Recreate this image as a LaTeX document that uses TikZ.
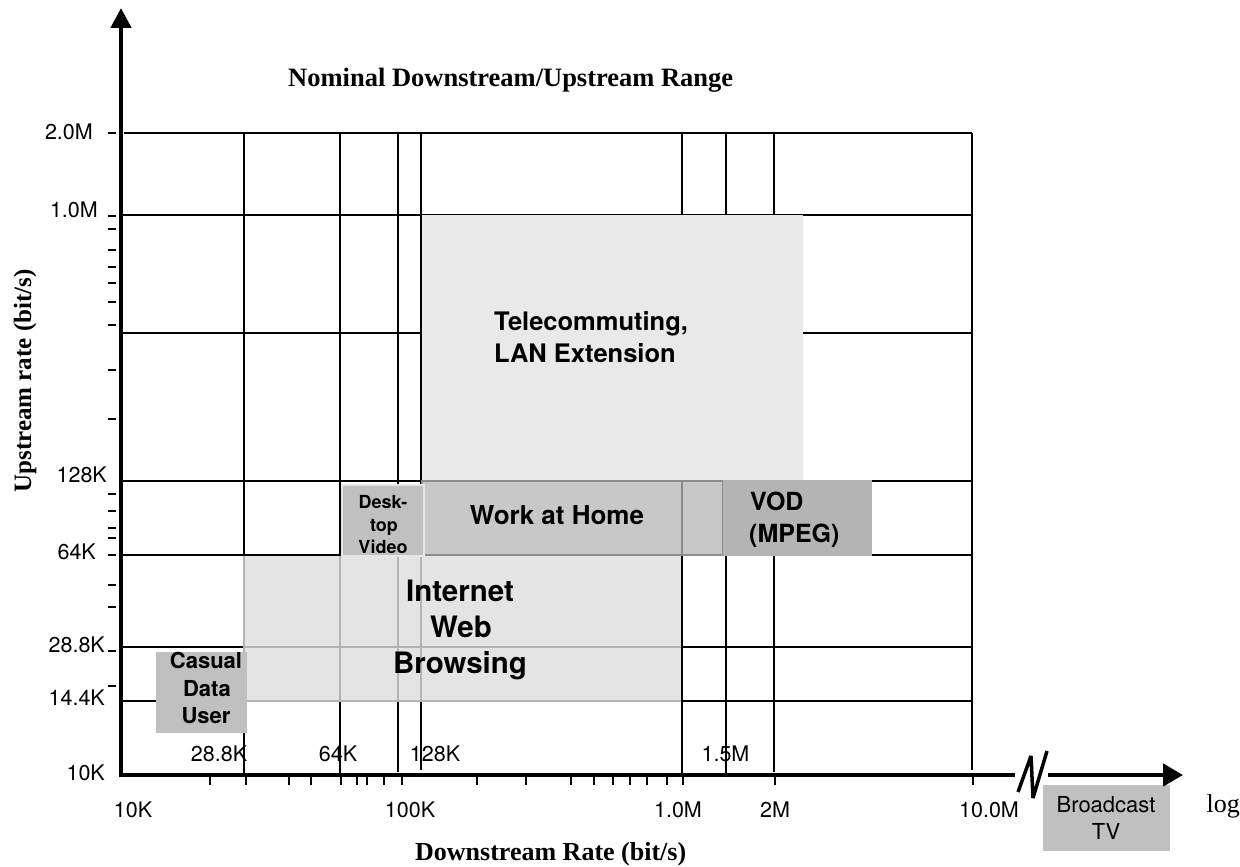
\documentclass[tikz,border=0pt]{standalone}
\usepackage{fontspec}
\setmainfont{Liberation Serif}
\newfontfamily\hv{TeX Gyre Heros}
\usetikzlibrary{arrows.meta}

\definecolor{telefill}{RGB}{233,233,233}
\definecolor{wahfill}{RGB}{200,200,200}
\definecolor{wahline}{RGB}{140,140,140}
\definecolor{webfill}{RGB}{228,228,228}
\definecolor{webline}{RGB}{180,180,180}
\definecolor{deskfill}{RGB}{192,192,192}
\definecolor{deskline}{RGB}{230,230,230}
\definecolor{vodfill}{RGB}{180,180,180}
\definecolor{userfill}{RGB}{192,192,192}

\begin{document}
\begin{tikzpicture}[x=1pt,y=-1pt,
  gridline/.style={line width=2pt,black},
  softline/.style={line width=2pt},
  axisline/.style={line width=4.5pt,black},
  tickmark/.style={line width=2pt,black},
  num/.style={font=\hv\fontsize{21.5}{25}\selectfont,inner sep=0pt},
  axtitle/.style={font=\bfseries\fontsize{26.5}{30}\selectfont,inner sep=0pt},
  boxtext/.style={font=\hv\bfseries\fontsize{#1}{#1}\selectfont,inner sep=0pt},
  boxtext/.default=25
]
\useasboundingbox (0,0) rectangle (1240,867);

% ---- black grid ----
\draw[gridline] (124,133) -- (972,133);
\foreach \yy in {215,333,481,555,647,701}
  \draw[gridline] (121,\yy) -- (971,\yy);
\foreach \xx/\yend in {244/775,340/775,398/772,421/770,682/775,726/775,774/772,972/770}
  \draw[gridline] (\xx,133) -- (\xx,\yend);

% ---- application regions ----
% Telecommuting, LAN Extension
\fill[telefill] (422,215) rectangle (803,481);

% Internet Web Browsing (grid shows through in grey)
\fill[webfill] (244,556) rectangle (682,701);
\draw[softline,webline] (244,556) -- (244,701) -- (682,701);
\foreach \xx in {340,398,421}
  \draw[softline,webline] (\xx,556) -- (\xx,701);
\draw[softline,webline] (244,647) -- (682,647);
\draw[gridline] (682,555) -- (682,775);
\draw[gridline] (121,555) -- (342,555);

% Work at Home
\filldraw[fill=wahfill,draw=wahline,line width=2pt] (422,481) rectangle (723,555);
\draw[softline,wahline] (682,481) -- (682,555);

% Desk-top Video
\filldraw[fill=deskfill,draw=deskline,line width=2pt] (342,485) rectangle (424,556);

% VOD (MPEG)
\fill[vodfill] (723,480) rectangle (872,556);

% Casual Data User
\fill[userfill] (156,652) rectangle (247,733);

% Broadcast TV
\fill[userfill] (1043,785) rectangle (1170,851);

% ---- axes ----
\draw[axisline] (118.75,775) -- (1015,775);
\draw[axisline,-{Triangle[length=20pt,width=22pt]}] (1048,775) -- (1183,775);
\draw[axisline,-{Triangle[length=20pt,width=20pt]}] (121,777.25) -- (121,8);
% axis break
\draw[line width=3.5pt,line join=bevel] (1018,792) -- (1031,756) -- (1033,798) -- (1047,751);

% ---- tick marks ----
\foreach \yy in {133,216,229,250,267,283,302,325,370,419,494,511,528,538,555,585,607,651,686}
  \draw[tickmark] (108,\yy) -- (116,\yy);
\foreach \xx in {210,246,289,311,341,357,367,384,402,477,526,571,594,613,630,647,667,683,775,973}
  \draw[tickmark] (\xx,775) -- (\xx,785);

% ---- upstream scale ----
\node[num,anchor=base east] (u2m)   at (93,139)  {2.0M};
\node[num,anchor=base east] (u1m)   at (98,217)  {1.0M};
\node[num,anchor=base east] (u128)  at (107,482) {128K};
\node[num,anchor=base east] (u64)   at (96,559)  {64K};
\node[num,anchor=base east] (u288)  at (105,652) {28.8K};
\node[num,anchor=base east] (u144)  at (105,705) {14.4K};
\node[num,anchor=base east] (u10)   at (105,780) {10K};

% ---- downstream scale ----
\node[num,anchor=base] (d10)   at (133,817) {10K};
\node[num,anchor=base] (d100)  at (410,817) {100K};
\node[num,anchor=base] (d1m)   at (678,817) {1.0M};
\node[num,anchor=base] (d2m)   at (775,817) {2M};
\node[num,anchor=base] (d10m)  at (989,817) {10.0M};
\node[num,anchor=base] (m288)  at (219,761) {28.8K};
\node[num,anchor=base] (m64)   at (338,761) {64K};
\node[num,anchor=base] (m128)  at (435,761) {128K};
\node[num,anchor=base] (m15)   at (725.5,761) {1.5M};

% ---- titles ----
\node[axtitle,anchor=base west] (title) at (288,87) {Nominal Downstream/Upstream Range};
\node[axtitle,anchor=base west,font=\bfseries\fontsize{26}{30}\selectfont] (xlab) at (415,860) {Downstream Rate (bit/s)};
\node[axtitle,anchor=base,rotate=90,font=\bfseries\fontsize{25}{30}\selectfont] (ylab) at (31,381) {Upstream rate (bit/s)};
\node[font=\fontsize{26}{30}\selectfont,inner sep=0pt,anchor=base east] (logword) at (1240,812) {log};

% ---- region labels ----
\node[boxtext=25.5,anchor=base west] (tc1) at (494,330) {Telecommuting,};
\node[boxtext=25.5,anchor=base west] (tc2) at (494,362) {LAN Extension};

\node[boxtext=26,anchor=base] (wah) at (557,524) {Work at Home};

\node[boxtext=18,anchor=base] (dv1) at (383,508) {Desk-};
\node[boxtext=18,anchor=base] (dv2) at (384,531) {top};
\node[boxtext=18,anchor=base] (dv3) at (383,553) {Video};

\node[boxtext=29.5,anchor=base] (iw1) at (460,601) {Internet};
\node[boxtext=29.5,anchor=base] (iw2) at (461,637) {Web};
\node[boxtext=29.5,anchor=base] (iw3) at (460,673) {Browsing};

\node[boxtext=25,anchor=base west] (vod1) at (750,510) {VOD};
\node[boxtext=25,anchor=base west] (vod2) at (749,542) {(MPEG)};

\node[boxtext=22,anchor=base] (cu1) at (206,668) {Casual};
\node[boxtext=22,anchor=base] (cu2) at (207,696) {Data};
\node[boxtext=22,anchor=base] (cu3) at (206,723) {User};

\node[num,font=\hv\fontsize{22}{26}\selectfont,anchor=base] (tv1) at (1106,812) {Broadcast};
\node[num,font=\hv\fontsize{22}{26}\selectfont,anchor=base] (tv2) at (1106,839) {TV};
\end{tikzpicture}
\end{document}
